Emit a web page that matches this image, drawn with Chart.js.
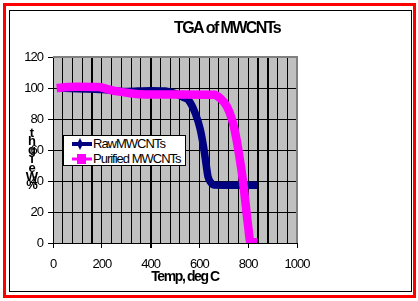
<!DOCTYPE html>
<html>
<head>
<meta charset="utf-8">
<script src="https://cdn.jsdelivr.net/npm/chart.js@4.4.0/dist/chart.umd.min.js"></script>
<style>
  html, body { margin: 0; padding: 0; background: #fff; }
  #wrap { position: relative; width: 418px; height: 301px; overflow: hidden; }
  #outer { position: absolute; left: 3px; top: 3px; width: 413px; height: 295px; box-sizing: border-box; border: 3px solid #ff0000; }
  #inner { position: absolute; left: 9px; top: 10px; width: 403px; height: 282px; box-sizing: border-box; border: 1px solid #000; }
  #chart { position: absolute; left: 0; top: 0; }
  #legend { position: absolute; left: 63px; top: 135px; width: 123px; height: 31px; box-sizing: border-box;
            border: 1px solid #000; background: #fff;
            font-family: 'Liberation Sans', Arial, sans-serif; font-size: 13px; letter-spacing: -1px; color: #000; }
  .row { position: absolute; left: 8px; height: 14px; line-height: 14px; white-space: nowrap; }
  .row svg { position: absolute; left: 0; top: 0; }
  .row span { position: absolute; left: 21px; top: 0; }
</style>
</head>
<body>
<div id="wrap">
  <div id="outer"></div>
  <div id="inner"></div>
  <canvas id="chart" width="418" height="301"></canvas>
  <div id="legend">
    <div class="row" style="top:1px">
      <svg width="20" height="14"><line x1="0" y1="7" x2="20" y2="7" stroke="#000080" stroke-width="4"/><polygon points="8,1 11,7 8,13 5,7" fill="#000080"/></svg>
      <span>RawMWCNTs</span>
    </div>
    <div class="row" style="top:16px">
      <svg width="20" height="14"><line x1="0" y1="7" x2="20" y2="7" stroke="#ff00ff" stroke-width="3"/><rect x="5" y="2" width="9" height="10" fill="#ff00ff"/></svg>
      <span>Purified MWCNTs</span>
    </div>
  </div>
</div>
<script>
// values
const tempRaw = [20, 100, 200, 300, 400, 460, 501, 540, 556, 583, 604, 617, 627, 635, 647, 658, 700, 836];
const weightRaw = [100, 99.5, 99, 97.8, 98.3, 98, 96.5, 93.5, 92, 83.7, 73, 62, 51.4, 43, 39, 37.4, 37.3, 37.3];

const tempPurified = [15, 60, 104, 186, 241, 323, 350, 501, 660, 686, 713, 734, 750, 764, 778, 789, 800, 809, 838];
const weightPurified = [100, 100.6, 100.8, 100.6, 98.5, 96.5, 96, 95.8, 95.6, 93.3, 88, 79.4, 68.6, 55.7, 40.6, 25.8, 10.5, 0.5, 0.5];

const chartTitle = "TGA of MWCNTs";
const xTitle = "Temp, deg C";
const yTitleChars = ["t", "h", "g", "i", "e", "W", "%"];

// gridlines that come out heavier in the original
const heavyGrid = [160, 400, 840, 880];

const FONT = "'Liberation Sans', Arial, sans-serif";

function toPoints(xs, ys) {
  return xs.map((x, i) => ({ x: x, y: ys[i] }));
}

const plotFrame = {
  id: "plotFrame",
  beforeDraw(chart) {
    const { ctx, chartArea: a } = chart;
    // squeezed look of the old Excel text
    ctx.letterSpacing = "-1px";
    ctx.save();
    ctx.fillStyle = "#c0c0c0";
    ctx.fillRect(a.left, a.top, a.right - a.left, a.bottom - a.top);
    ctx.restore();
  },
  afterDraw(chart) {
    const { ctx, chartArea: a } = chart;
    ctx.save();
    ctx.strokeStyle = "#808080";
    ctx.lineWidth = 2;
    ctx.beginPath();
    ctx.moveTo(a.left, a.top);
    ctx.lineTo(a.right, a.top);
    ctx.lineTo(a.right, a.bottom);
    ctx.stroke();
    ctx.restore();
  },
};

const textLabels = {
  id: "textLabels",
  afterDraw(chart) {
    const ctx = chart.ctx;
    ctx.save();
    ctx.fillStyle = "#000";
    ctx.textAlign = "center";
    ctx.textBaseline = "middle";
    ctx.letterSpacing = "-1.6px";
    ctx.font = "bold 16px " + FONT;
    ctx.fillText(chartTitle, 227, 29);
    ctx.letterSpacing = "-1.4px";
    ctx.font = "bold 14px " + FONT;
    ctx.fillText(xTitle, 185, 277);
    ctx.letterSpacing = "0px";
    ctx.font = "bold 13px " + FONT;
    yTitleChars.forEach((c, i) => {
      ctx.fillText(c, 32, 133 + i * 8.8);
    });
    ctx.restore();
  },
};

new Chart(document.getElementById("chart").getContext("2d"), {
  type: "scatter",
  data: {
    datasets: [
      {
        label: "RawMWCNTs",
        data: toPoints(tempRaw, weightRaw),
        showLine: true,
        borderColor: "#000080",
        backgroundColor: "#000080",
        borderWidth: 7.5,
        pointRadius: 0,
        cubicInterpolationMode: "monotone",
        order: 2,
      },
      {
        label: "Purified MWCNTs",
        data: toPoints(tempPurified, weightPurified),
        showLine: true,
        borderColor: "#ff00ff",
        backgroundColor: "#ff00ff",
        borderWidth: 8.5,
        pointRadius: 0,
        cubicInterpolationMode: "monotone",
        order: 1,
      },
    ],
  },
  options: {
    responsive: false,
    animation: false,
    devicePixelRatio: 1,
    layout: { padding: { top: 57, right: 121, left: 0, bottom: 0 } },
    plugins: {
      legend: { display: false },
      title: { display: false },
      tooltip: { enabled: false },
    },
    scales: {
      x: {
        type: "linear",
        min: 0,
        max: 1000,
        afterFit: (scale) => { scale.height = 58; },
        ticks: {
          stepSize: 40,
          maxTicksLimit: 30,
          autoSkip: false,
          maxRotation: 0,
          padding: 9,
          color: "#000",
          font: { family: FONT, size: 13 },
          callback: (v) => (v % 200 === 0 ? v : ""),
        },
        grid: {
          color: "#000",
          lineWidth: (c) => (c.tick && heavyGrid.includes(c.tick.value) ? 2 : 1),
          tickLength: 5,
          tickColor: (c) => (c.tick && c.tick.value % 200 === 0 ? "#000" : "rgba(0,0,0,0)"),
        },
        border: { color: "#000", width: 1 },
      },
      y: {
        min: 0,
        max: 120,
        afterFit: (scale) => { scale.width = 53; },
        ticks: {
          stepSize: 20,
          padding: 5,
          color: "#000",
          font: { family: FONT, size: 13 },
        },
        grid: { color: "#000", lineWidth: 1, tickLength: 5 },
        border: { color: "#000", width: 1 },
      },
    },
  },
  plugins: [plotFrame, textLabels],
});
</script>
</body>
</html>
